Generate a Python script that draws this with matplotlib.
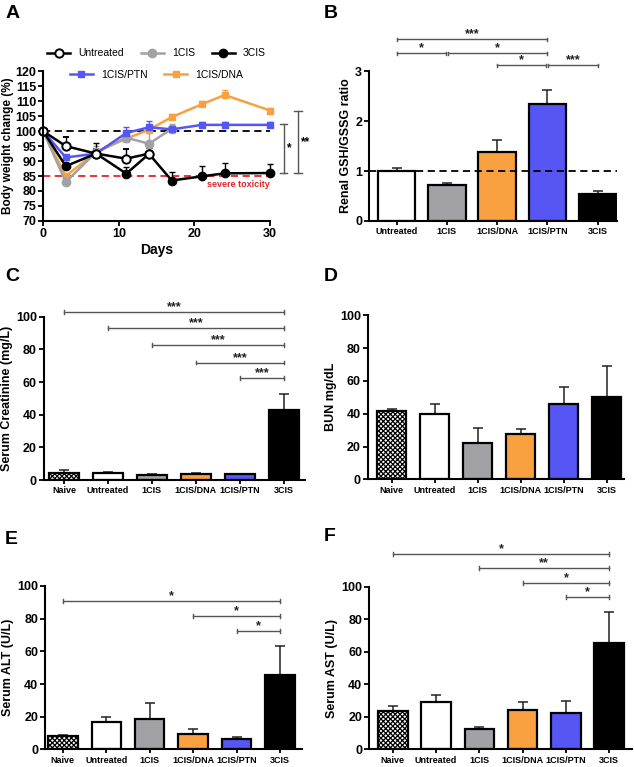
import numpy as np
import matplotlib.pyplot as plt

plt.rcParams['font.family'] = ['Liberation Sans', 'DejaVu Sans']
plt.rcParams['font.weight'] = 'bold'
plt.rcParams['axes.labelweight'] = 'bold'
plt.rcParams['hatch.linewidth'] = 0.9

# ---- data ----
days = [0, 3, 7, 11, 14, 17, 21, 24, 30]
untreated_w = [100, 95, 92.5, 90.8, 92.5]
untreated_e = [0, 3, 1.5, 3.3, 0]
cis1_w = [100, 83, 93, 97.8, 95.8, 100.8]
cis1_e = [0, 0, 2, 1.5, 3.5, 1.5]
cis3_w = [100, 88.3, 92.5, 85.8, 92.4, 83.5, 84.9, 85.9, 86]
cis3_e = [0, 0, 3.5, 2.2, 2, 3, 3.5, 3.4, 3]
ptn_w = [100, 91.2, 92.5, 99.4, 101.3, 100.6, 102.1, 102.1, 102.1]
ptn_e = [0, 0, 1, 2, 2, 1, 1, 1, 1]
dna_w = [100, 85, 93, 97.5, 100.5, 104.7, 109, 112.1, 106.9]
dna_e = [0, 0, 1, 1, 1, 1, 1, 1.5, 1]

groups_b = ['Untreated', '1CIS', '1CIS/DNA', '1CIS/PTN', '3CIS']
gsh = [1.0, 0.72, 1.38, 2.34, 0.53]
gsh_e = [0.07, 0.05, 0.25, 0.29, 0.06]

groups = ['Naive', 'Untreated', '1CIS', '1CIS/DNA', '1CIS/PTN', '3CIS']
creat = [4.5, 4.5, 3.0, 4.0, 3.5, 43]
creat_e = [1.8, 0.3, 0.8, 0.3, 0.3, 9.5]
bun = [41.7, 39.6, 22.2, 27.6, 46.1, 50.4]
bun_e = [1.0, 6.1, 9.1, 2.9, 10.0, 18.5]
alt = [8.4, 16.7, 18.6, 9.4, 6.3, 45.7]
alt_e = [0.4, 2.9, 9.6, 2.8, 1.5, 17.6]
ast = [23.8, 29.1, 12.7, 24.4, 22.5, 65.4]
ast_e = [3.0, 4.3, 1.3, 4.7, 7.2, 19.0]

# name-based colours
col = {'Naive': 'white', 'Untreated': 'white', '1CIS': '#a2a2a6',
       '1CIS/DNA': '#f9a040', '1CIS/PTN': '#5556f4', '3CIS': 'black'}

fig = plt.figure(figsize=(6.34, 7.67), dpi=100)


def style(ax):
    for s in ['top', 'right']:
        ax.spines[s].set_visible(False)
    for s in ['left', 'bottom']:
        ax.spines[s].set_linewidth(1.5)
    ax.tick_params(width=1.3, length=3.5, labelsize=9, pad=1.5)
    for t in ax.get_yticklabels():
        t.set_fontweight('bold')


def bracket(ax, x1, x2, y, txt, dy):
    ax.plot([x1, x2], [y, y], color='#555555', lw=1.0, clip_on=False)
    for x in (x1, x2):
        ax.plot([x, x], [y - dy, y + dy], color='#555555', lw=1.0, clip_on=False)
    ax.text((x1 + x2) / 2, y - dy * 0.6, txt, ha='center', va='bottom',
            fontsize=9, fontweight='bold', color='#222222')


def bars(ax, names, vals, errs, width, ymax, ylabel):
    x = np.arange(len(names))
    for i, n in enumerate(names):
        hatch = 'xxxxxxx' if n == 'Naive' else None
        ax.bar(x[i], vals[i], width=width, color=col[n], edgecolor='black',
               linewidth=1.6, hatch=hatch, zorder=2)
        ax.errorbar(x[i], vals[i], yerr=[[0], [errs[i]]], color='#222222',
                    capsize=3.5, elinewidth=1.1, capthick=1.1, zorder=1)
    ax.set_ylim(0, ymax)
    ax.set_ylabel(ylabel, fontsize=9, labelpad=2)
    style(ax)
    ax.set_xticks(x)
    ax.set_xticklabels(names, fontsize=6.5, fontweight='bold')
    ax.tick_params(axis='x', length=3, pad=1.5)
    return x


# ---- A ----
axA = fig.add_axes([0.068, 0.712, 0.358, 0.195])
axA.axhline(100, color='black', ls='--', lw=1.3, dashes=(4, 2.5), zorder=1)
axA.axhline(85, color='#e0252b', ls='--', lw=1.3, dashes=(4, 2.5), zorder=1)
axA.text(30, 83.6, 'severe toxicity', color='#e0252b', fontsize=6.5,
         ha='right', va='top', fontweight='bold')
kw = dict(lw=1.8, capsize=2.5, elinewidth=1.0, capthick=1.0, clip_on=False)
hD = axA.errorbar(days, dna_w, yerr=[np.zeros(9), dna_e], color='#f9a040',
                  marker='s', ms=4.5, **kw)
h1 = axA.errorbar(days[:6], cis1_w, yerr=[np.zeros(6), cis1_e], color='#a2a2a6',
                  marker='o', ms=6, **kw)
hP = axA.errorbar(days, ptn_w, yerr=[np.zeros(9), ptn_e], color='#5556f4',
                  marker='s', ms=4.5, **kw)
h3 = axA.errorbar(days, cis3_w, yerr=[np.zeros(9), cis3_e], color='black',
                  marker='o', ms=6, **kw)
hU = axA.errorbar(days[:5], untreated_w, yerr=[np.zeros(5), untreated_e], color='black',
                  marker='o', ms=6, mfc='white', mew=1.4, **kw)
axA.set_xlim(0, 30)
axA.set_ylim(70, 120)
axA.set_yticks(np.arange(70, 121, 5))
axA.set_xticks([0, 10, 20, 30])
axA.set_xlabel('Days', fontsize=10, labelpad=2)
axA.set_ylabel('Body weight change (%)', fontsize=8.5, labelpad=1)
style(axA)
for t in axA.get_xticklabels():
    t.set_fontweight('bold')
leg1 = axA.legend([hU[0], h1[0], h3[0]], ['Untreated', '1CIS', '3CIS'], ncol=3,
                  loc='center', bbox_to_anchor=(0.5, 1.12), frameon=False,
                  prop={'size': 7.5, 'weight': 'normal'}, handlelength=2.2,
                  columnspacing=1.6, handletextpad=0.8)
axA.add_artist(leg1)
axA.legend([hP[0], hD[0]], ['1CIS/PTN', '1CIS/DNA'], ncol=2, loc='center',
           bbox_to_anchor=(0.5, 0.975), frameon=False,
           prop={'size': 7.5, 'weight': 'normal'}, handlelength=2.2,
           columnspacing=1.6, handletextpad=0.8)
# significance on the right
for xx, y1, y2, s in [(31.8, 86, 102.3, '*'), (33.7, 86, 106.8, '**')]:
    axA.plot([xx, xx], [y1, y2], color='#555555', lw=1.0, clip_on=False)
    for yy in (y1, y2):
        axA.plot([xx - 0.5, xx + 0.5], [yy, yy], color='#555555', lw=1.0, clip_on=False)
    axA.text(xx + 0.4, (y1 + y2) / 2, s, fontsize=8.5, ha='left', va='center')

# ---- B ----
axB = fig.add_axes([0.582, 0.712, 0.391, 0.195])
xb = bars(axB, groups_b, gsh, gsh_e, 0.75, 3, 'Renal GSH/GSSG ratio')
axB.set_xlim(-0.55, 4.38)
axB.set_yticks([0, 1, 2, 3])
axB.axhline(1.0, color='black', ls='--', lw=1.3, dashes=(4, 2.5), zorder=3)
dB = 0.035
bracket(axB, 0, 3, 3.64, '***', dB)
bracket(axB, 0, 0.98, 3.36, '*', dB)
bracket(axB, 1.02, 3, 3.36, '*', dB)
bracket(axB, 2, 2.98, 3.12, '*', dB)
bracket(axB, 3.02, 4, 3.12, '***', dB)

# ---- C ----
axC = fig.add_axes([0.069, 0.374, 0.412, 0.213])
bars(axC, groups, creat, creat_e, 0.68, 100, 'Serum Creatinine (mg/L)')
axC.set_xlim(-0.46, 5.48)
axC.set_yticks(np.arange(0, 101, 20))
for x1, y in zip([0, 1, 2, 3, 4], [103, 93, 82.5, 72, 62.5]):
    bracket(axC, x1, 5, y, '***', 1.2)

# ---- D ----
axD = fig.add_axes([0.580, 0.375, 0.404, 0.214])
bars(axD, groups, bun, bun_e, 0.68, 100, 'BUN mg/dL')
axD.set_xlim(-0.56, 5.4)
axD.set_yticks(np.arange(0, 101, 20))

# ---- E ----
axE = fig.add_axes([0.071, 0.023, 0.405, 0.213])
bars(axE, groups, alt, alt_e, 0.68, 100, 'Serum ALT (U/L)')
axE.set_xlim(-0.41, 5.5)
axE.set_yticks(np.arange(0, 101, 20))
for x1, y in zip([0, 3, 4], [91, 81.6, 72.4]):
    bracket(axE, x1, 5, y, '*', 1.2)

# ---- F ----
axF = fig.add_axes([0.582, 0.023, 0.415, 0.212])
bars(axF, groups, ast, ast_e, 0.68, 100, 'Serum AST (U/L)')
axF.set_xlim(-0.55, 5.53)
axF.set_yticks(np.arange(0, 101, 20))
for x1, y, s in zip([0, 2, 3, 4], [120, 111.3, 102.3, 93.6], ['*', '**', '*', '*']):
    bracket(axF, x1, 5, y, s, 1.2)

# panel letters
for lab, x, y in [('A', 0.008, 0.982), ('B', 0.510, 0.982), ('C', 0.008, 0.639),
                  ('D', 0.510, 0.639), ('E', 0.008, 0.296), ('F', 0.510, 0.300)]:
    fig.text(x, y, lab, fontsize=14, fontweight='bold', va='center')

fig.savefig('out.png', dpi=100)
